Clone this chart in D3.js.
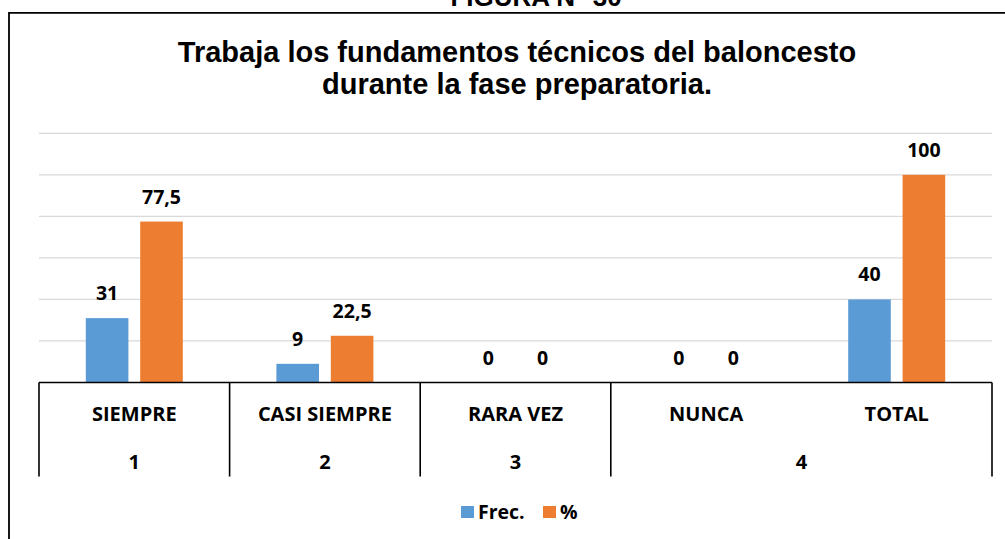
<!DOCTYPE html>
<html>
<head>
<meta charset="utf-8">
<script src="https://cdn.jsdelivr.net/npm/d3@7"></script>
<style>
  body { margin: 0; background: #fff; }
  svg { display: block; }
</style>
</head>
<body>
<script>
"use strict";

// chart data
const categories = ["SIEMPRE", "CASI SIEMPRE", "RARA VEZ", "NUNCA", "TOTAL"];
const groups = [
  { label: "1", from: 0, to: 0 },
  { label: "2", from: 1, to: 1 },
  { label: "3", from: 2, to: 2 },
  { label: "4", from: 3, to: 4 }
];
const seriesNames = ["Frec.", "%"];
const frec = [31, 9, 0, 0, 40];
const pct = [77.5, 22.5, 0, 0, 100];
const yTicks = [0, 20, 40, 60, 80, 100, 120];
const colors = ["#5b9bd5", "#ed7d31"];

const width = 1005, height = 539;
const plotLeft = 39, plotRight = 992, plotTop = 133.3, base = 382.5;
const labelFont = "'Open Sans', sans-serif";

let svg = d3
  .select("body")
  .append("svg")
  .attr("width", width)
  .attr("height", height);

// heading above the frame, clipped by the page top
svg.append("text")
  .attr("x", 536)
  .attr("y", 6)
  .attr("text-anchor", "middle")
  .attr("font-family", "'Liberation Sans', Arial, sans-serif")
  .attr("font-weight", "bold")
  .attr("font-size", 26)
  .text("FIGURA N° 30");

// chart frame (runs off the right and bottom edges)
svg.append("path")
  .attr("d", `M9,${height + 5}V12.8H${width + 5}`)
  .attr("fill", "none")
  .attr("stroke", "#000")
  .attr("stroke-width", 1.8);

// title
let title = svg.append("text")
  .attr("text-anchor", "middle")
  .attr("font-family", "'Liberation Sans', Arial, sans-serif")
  .attr("font-weight", "bold")
  .attr("font-size", 29);
title.append("tspan").attr("x", 517).attr("y", 62).text("Trabaja los fundamentos técnicos del baloncesto");
title.append("tspan").attr("x", 517).attr("y", 94).text("durante la fase preparatoria.");

let y = d3.scaleLinear().domain([0, 120]).range([base, plotTop]);

let x0 = d3.scaleBand()
  .domain(categories)
  .range([plotLeft, plotRight])
  .paddingInner(0)
  .paddingOuter(0);

let x1 = d3.scaleBand()
  .domain(seriesNames)
  .range([0, x0.bandwidth()])
  .paddingInner(0.217)
  .paddingOuter(0.86);

// gridlines
svg.append("g")
  .selectAll("line")
  .data(yTicks.slice(1))
  .enter()
  .append("line")
  .attr("x1", plotLeft)
  .attr("x2", plotRight)
  .attr("y1", d => y(d))
  .attr("y2", d => y(d))
  .attr("stroke", "#d9d9d9")
  .attr("stroke-width", 1.3);

const rows = categories.map((c, i) => ({ cat: c, values: [frec[i], pct[i]] }));

let bars = svg.append("g");
let cats = bars.selectAll("g")
  .data(rows)
  .enter()
  .append("g")
  .attr("transform", d => `translate(${x0(d.cat)},0)`);

cats.selectAll("rect")
  .data(d => d.values.map((v, j) => ({ name: seriesNames[j], v, j })))
  .enter()
  .append("rect")
  .attr("x", d => x1(d.name))
  .attr("width", x1.bandwidth())
  .attr("y", d => y(d.v))
  .attr("height", d => base - y(d.v))
  .attr("fill", d => colors[d.j]);

cats.selectAll("text")
  .data(d => d.values.map((v, j) => ({ name: seriesNames[j], v, j })))
  .enter()
  .append("text")
  .attr("x", d => x1(d.name) + x1.bandwidth() / 2)
  .attr("y", d => y(d.v) - 18)
  .attr("text-anchor", "middle")
  .attr("font-family", labelFont)
  .attr("font-weight", "bold")
  .attr("font-size", 19.5)
  .attr("fill", "#000")
  .text(d => String(d.v).replace(".", ","));

// category table under the axis
let axis = svg.append("g");
axis.append("line")
  .attr("x1", plotLeft)
  .attr("x2", plotRight)
  .attr("y1", base)
  .attr("y2", base)
  .attr("stroke", "#000")
  .attr("stroke-width", 1.6);

const tableBottom = 476.5;
let edges = [plotLeft];
groups.forEach(g => edges.push(x0(categories[g.to]) + x0.bandwidth()));
axis.selectAll("line.edge")
  .data(edges)
  .enter()
  .append("line")
  .attr("class", "edge")
  .attr("x1", d => d)
  .attr("x2", d => d)
  .attr("y1", base)
  .attr("y2", tableBottom)
  .attr("stroke", "#000")
  .attr("stroke-width", 1.6);

axis.selectAll("text.cat")
  .data(categories)
  .enter()
  .append("text")
  .attr("class", "cat")
  .attr("x", d => x0(d) + x0.bandwidth() / 2)
  .attr("y", 421)
  .attr("text-anchor", "middle")
  .attr("font-family", labelFont)
  .attr("font-weight", "bold")
  .attr("font-size", 20)
  .text(d => d);

axis.selectAll("text.grp")
  .data(groups)
  .enter()
  .append("text")
  .attr("class", "grp")
  .attr("x", g => (x0(categories[g.from]) + x0(categories[g.to]) + x0.bandwidth()) / 2)
  .attr("y", 469)
  .attr("text-anchor", "middle")
  .attr("font-family", labelFont)
  .attr("font-weight", "bold")
  .attr("font-size", 20)
  .text(g => g.label);

// legend
let legend = svg.append("g");
const legendX = [461, 543];
seriesNames.forEach((name, i) => {
  legend.append("rect")
    .attr("x", legendX[i])
    .attr("y", 506)
    .attr("width", 13)
    .attr("height", 12)
    .attr("fill", colors[i]);
  legend.append("text")
    .attr("x", legendX[i] + 17)
    .attr("y", 519)
    .attr("font-family", labelFont)
    .attr("font-weight", "bold")
    .attr("font-size", 19.5)
    .text(name);
});
</script>
</body>
</html>
